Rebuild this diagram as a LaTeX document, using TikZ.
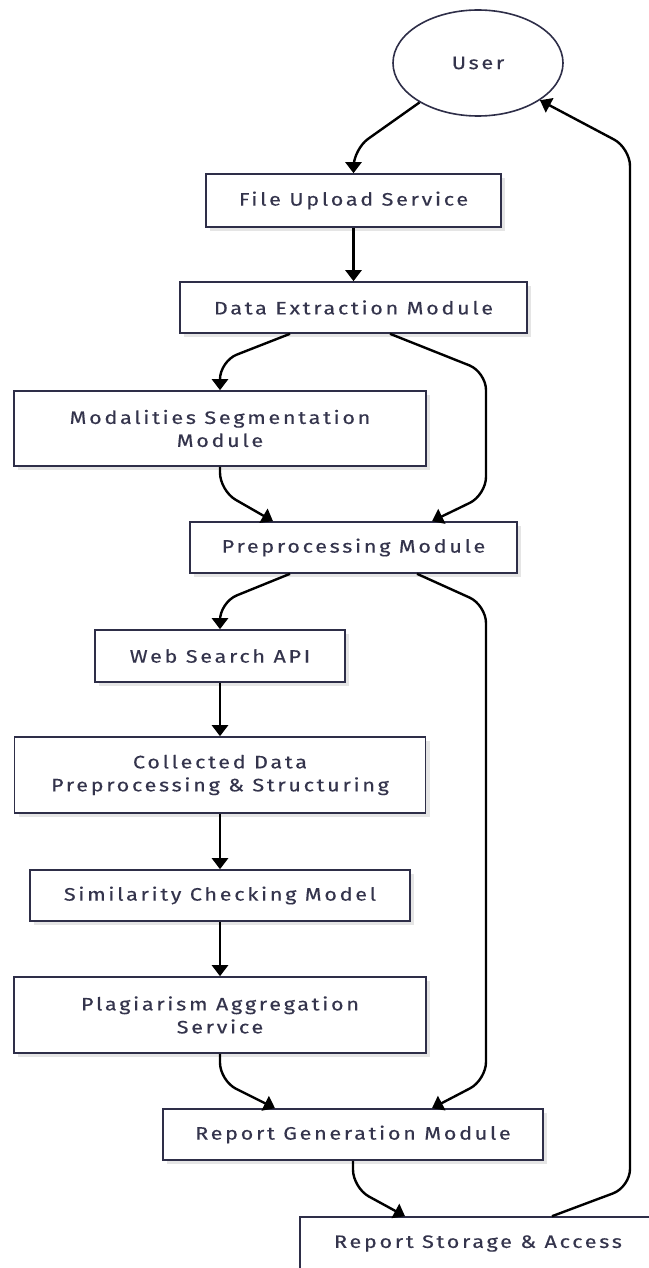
\documentclass[tikz,border=0pt]{standalone}
\usepackage{fontspec}
\setmainfont{Fira Sans}[LetterSpace=15, FakeStretch=1.2, FakeBold=0.3]
\usetikzlibrary{arrows.meta,shapes.geometric,shadows,calc}
\definecolor{ink}{HTML}{2E2E48}
\definecolor{txt}{HTML}{34344C}
\begin{document}
\begin{tikzpicture}[x=1pt,y=-1pt,
  box/.style={draw=ink, line width=1.6pt, fill=white, rectangle, text=txt,
    align=center, inner sep=0pt, font=\fontsize{18}{23}\selectfont,
    drop shadow={shadow xshift=4pt, shadow yshift=-4pt, fill=black, opacity=0.10}},
  conn/.style={draw=black, line width=2.4pt, rounded corners=18pt,
    -{Triangle[width=16pt,length=11pt]}}]
\useasboundingbox (0,0) rectangle (648,1268);

% actor
\node[ellipse, draw=ink, line width=1.6pt, fill=white, text=txt,
  minimum width=170pt, minimum height=106pt, inner sep=0pt,
  font=\fontsize{18}{23}\selectfont] (user) at (478,63) {User};

% processing stages
\node[box, minimum width=295pt, minimum height=53pt] (fus) at (353.5,200.5) {File Upload Service};
\node[box, minimum width=347pt, minimum height=51pt] (dem) at (353.5,307.5) {Data Extraction Module};
\node[box, minimum width=412pt, minimum height=75pt] (msm) at (220,428.5) {Modalities Segmentation\\Module};
\node[box, minimum width=327pt, minimum height=51pt] (ppm) at (353.5,547.5) {Preprocessing Module};
\node[box, minimum width=250pt, minimum height=52pt] (wsa) at (220,656) {Web Search API};
\node[box, minimum width=411pt, minimum height=76pt] (cdp) at (220,775) {Collected Data\\Preprocessing \& Structuring};
\node[box, minimum width=380pt, minimum height=51pt] (scm) at (220,895.5) {Similarity Checking Model};
\node[box, minimum width=412pt, minimum height=76pt] (pas) at (220,1015) {Plagiarism Aggregation\\Service};
\node[box, minimum width=380pt, minimum height=51pt] (rgm) at (353,1134.5) {Report Generation Module};
\node[box, minimum width=356pt, minimum height=53pt] (rsa) at (478,1243.5) {Report Storage \& Access};

% rails for the long connectors
\coordinate (railA) at (486,0);
\coordinate (railB) at (630,0);

% flow
\draw[conn] (user.214) -- ($(fus.north)+(0,-24)$) -- (fus.north);
\draw[conn] (fus.south) -- (dem.north);
\draw[conn] ($(dem.south)+(-63.5,0)$) -- ($(msm.north)+(0,-29)$) -- (msm.north);
\draw[conn] ($(dem.south)+(36.5,0)$) -- (railA |- 0,372) -- (railA |- 0,495) -- ($(ppm.north)+(78.5,0)$);
\draw[conn] (msm.south) -- ($(msm.south)+(0,24)$) -- ($(ppm.north)+(-80.5,0)$);
\draw[conn] ($(ppm.south)+(-63.5,0)$) -- ($(wsa.north)+(0,-27)$) -- (wsa.north);
\draw[conn] ($(ppm.south)+(63.5,0)$) -- (railA |- 0,605) -- (railA |- 0,1080) -- ($(rgm.north)+(79,0)$);
\draw[conn] (wsa.south) -- (cdp.north);
\draw[conn] (cdp.south) -- (scm.north);
\draw[conn] (scm.south) -- (pas.north);
\draw[conn] (pas.south) -- ($(pas.south)+(0,27)$) -- ($(rgm.north)+(-78,0)$);
\draw[conn] (rgm.south) -- ($(rgm.south)+(0,27)$) -- ($(rsa.north)+(-73,0)$);
\draw[conn] ($(rsa.north)+(74,0)$) -- (railB |- 0,1187) -- (railB |- 0,148) -- (user.329);
\end{tikzpicture}
\end{document}
